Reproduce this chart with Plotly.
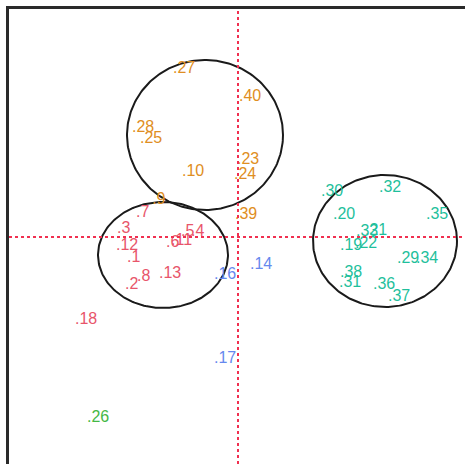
import numpy as np
import plotly.graph_objects as go

# point labels, coordinates and cluster membership
labels = ["27", "40", "28", "25", "10", "23", "24", "9", "39",
          "7", "3", "12", "1", "2", "8", "13", "6", "11", "5", "4", "18",
          "16", "14", "17",
          "26",
          "30", "32", "20", "35", "33", "21", "19", "22", "29", "34", "38", "31", "36", "37"]
xs = [-1.30, 0.02, -2.12, -1.96, -1.12, -0.02, -0.08, -1.72, -0.06,
      -2.04, -2.42, -2.44, -2.22, -2.26, -2.02, -1.58, -1.44, -1.34, -1.14, -0.94, -3.26,
      -0.48, 0.24, -0.48,
      -3.02,
      1.66, 2.82, 1.90, 3.76, 2.36, 2.54, 2.04, 2.34, 3.18, 3.56, 2.04, 2.02, 2.70, 3.00]
ys = [3.36, 2.80, 2.18, 1.96, 1.30, 1.54, 1.24, 0.74, 0.44,
      0.48, 0.16, -0.18, -0.42, -0.96, -0.80, -0.74, -0.12, -0.08, 0.10, 0.10, -1.66,
      -0.76, -0.56, -2.44,
      -3.62,
      0.90, 0.98, 0.44, 0.44, 0.10, 0.12, -0.18, -0.14, -0.44, -0.44, -0.72, -0.92, -0.96, -1.20]
groups = ["B"] * 9 + ["A"] * 12 + ["D"] * 3 + ["E"] + ["C"] * 14

group_colors = {"A": "#E8556A", "B": "#DF8E22", "C": "#1FBF9C",
                "D": "#6688EE", "E": "#45B845"}

# ellipse summary per drawn cluster
ell_groups = ["B", "A", "C"]
ell_cx = [-0.66, -1.50, 2.94]
ell_cy = [2.04, -0.36, -0.08]
ell_rx = [1.56, 1.30, 1.44]
ell_ry = [1.50, 1.06, 1.32]

fig = go.Figure()

t = np.linspace(0, 2 * np.pi, 240)
for g, cx, cy, rx, ry in zip(ell_groups, ell_cx, ell_cy, ell_rx, ell_ry):
    fig.add_trace(go.Scatter(x=cx + rx * np.cos(t), y=cy + ry * np.sin(t),
                             mode="lines", line=dict(color="#1a1a1a", width=2),
                             hoverinfo="skip", showlegend=False))

for g in ["A", "B", "C", "D", "E"]:
    idx = [i for i, gg in enumerate(groups) if gg == g]
    fig.add_trace(go.Scatter(
        x=[xs[i] for i in idx], y=[ys[i] for i in idx],
        text=["." + labels[i] for i in idx],
        mode="text", textposition="middle right",
        textfont=dict(family="Liberation Sans, Arial", size=16, color=group_colors[g]),
        showlegend=False))

fig.add_hline(y=0, line=dict(color="#F03050", width=2, dash="dot"))
fig.add_vline(x=0, line=dict(color="#F03050", width=2, dash="dot"))

fig.update_layout(
    width=465, height=464,
    margin=dict(l=9, t=9, r=0, b=0),
    paper_bgcolor="white", plot_bgcolor="white",
    xaxis=dict(range=[-4.58, 4.54], showgrid=False, zeroline=False, showticklabels=False,
               ticks="", side="top", showline=True, linecolor="#2a2a2a", linewidth=2.5),
    yaxis=dict(range=[-4.54, 4.56], showgrid=False, zeroline=False, showticklabels=False,
               ticks="", showline=True, linecolor="#2a2a2a", linewidth=2.5),
)

fig.write_html("out.html")
